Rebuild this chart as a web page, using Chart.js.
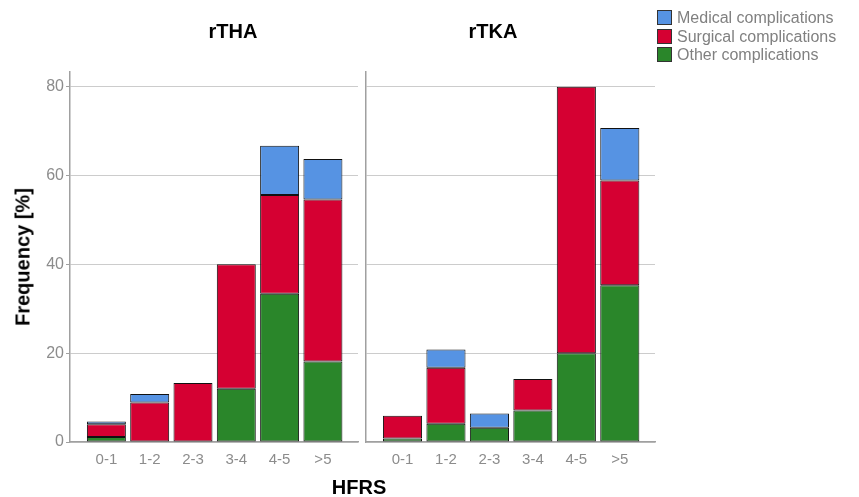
<!DOCTYPE html>
<html>
<head>
<meta charset="utf-8">
<script src="https://cdn.jsdelivr.net/npm/chart.js@4"></script>
<style>
  body { margin: 0; background: #fff; font-family: "Liberation Sans", Arial, sans-serif; }
  #wrap { position: relative; width: 859px; height: 497px; overflow: hidden; }
  .box { position: absolute; top: 0; height: 497px; }
  .t { position: absolute; font-weight: bold; color: #000; font-size: 20px; white-space: nowrap; }
  .leg { position: absolute; left: 657px; font-size: 16px; color: #808080; white-space: nowrap; }
  .leg span { display: inline-block; width: 13px; height: 13px; border: 1px solid #333; vertical-align: -2px; margin-right: 5px; }
</style>
</head>
<body>
<div id="wrap">
  <div class="box" style="left:0;width:362px"><canvas id="thaCanvas"></canvas></div>
  <div class="box" style="left:360px;width:300px"><canvas id="tkaCanvas"></canvas></div>
  <div class="t" style="left:233px;top:31px;transform:translate(-50%,-50%)">rTHA</div>
  <div class="t" style="left:493px;top:31px;transform:translate(-50%,-50%)">rTKA</div>
  <div class="t" style="left:359px;top:487px;transform:translate(-50%,-50%)">HFRS</div>
  <div class="t" style="left:23px;top:257px;transform:translate(-50%,-50%) rotate(-90deg)">Frequency [%]</div>
  <div class="leg" style="top:9px"><span style="background:#5693e3"></span>Medical complications</div>
  <div class="leg" style="top:28px"><span style="background:#d50032"></span>Surgical complications</div>
  <div class="leg" style="top:46px"><span style="background:#2a862a"></span>Other complications</div>
</div>
<script>
const categorias = ["0-1", "1-2", "2-3", "3-4", "4-5", ">5"];
const ticksY = [0, 20, 40, 60, 80];

// rTHA
const thaOutras = [1.1, 0, 0, 12.0, 33.4, 18.1];
const thaCirurgicas = [2.9, 8.9, 13.3, 28.0, 22.2, 36.5];
const thaMedicas = [0.6, 1.9, 0, 0, 11.1, 9.1];

// rTKA
const tkaOutras = [0.8, 4.1, 3.2, 7.1, 20.0, 35.3];
const tkaCirurgicas = [5.1, 12.6, 0, 7.1, 60.0, 23.6];
const tkaMedicas = [0, 4.1, 3.2, 0, 0, 11.8];

const cores = { medicas: "#5693e3", cirurgicas: "#d50032", outras: "#2a862a" };
const fonte = "'Liberation Sans', Arial, sans-serif";

function pontos(valores) {
  return valores.map((v, i) => ({ x: i, y: v }));
}

function serie(label, valores, cor) {
  return {
    label,
    data: pontos(valores),
    backgroundColor: cor,
    borderColor: "#111111",
    borderWidth: 1,
    borderSkipped: false,
    barPercentage: 0.9,
    categoryPercentage: 1.0,
  };
}

function criarGrafico(canvas, outras, cirurgicas, medicas, comEixo) {
  return new Chart(canvas.getContext("2d"), {
    type: "bar",
    data: {
      datasets: [
        serie("Other complications", outras, cores.outras),
        serie("Surgical complications", cirurgicas, cores.cirurgicas),
        serie("Medical complications", medicas, cores.medicas),
      ],
    },
    options: {
      responsive: true,
      maintainAspectRatio: false,
      animation: false,
      layout: { padding: { top: 72, right: comEixo ? 4 : 5, left: 0, bottom: 0 } },
      plugins: { legend: { display: false }, tooltip: { enabled: false } },
      scales: {
        x: {
          type: "linear",
          stacked: true,
          offset: false,
          min: -0.84,
          max: 5.81,
          afterBuildTicks: s => { s.ticks = categorias.map((c, i) => ({ value: i })); },
          afterFit: s => { s.height = 55; },
          grid: { display: false, drawTicks: false, offset: false },
          border: { display: true, color: "#a0a0a0", width: 1.5 },
          ticks: {
            padding: 9,
            color: "#8c8c8c",
            font: { family: fonte, size: 15 },
            callback: v => categorias[v],
          },
        },
        y: {
          stacked: true,
          min: 0,
          max: 83.3,
          afterBuildTicks: s => { s.ticks = ticksY.map(v => ({ value: v })); },
          afterFit: s => { s.width = comEixo ? 70 : 6; },
          grid: { color: "#cccccc", lineWidth: 1, tickLength: 4, drawTicks: comEixo, tickColor: "#a0a0a0" },
          border: { display: true, color: "#a0a0a0", width: 1.5 },
          ticks: {
            display: comEixo,
            padding: 2,
            color: "#8c8c8c",
            font: { family: fonte, size: 16 },
          },
        },
      },
    },
  });
}

criarGrafico(document.getElementById("thaCanvas"), thaOutras, thaCirurgicas, thaMedicas, true);
criarGrafico(document.getElementById("tkaCanvas"), tkaOutras, tkaCirurgicas, tkaMedicas, false);
</script>
</body>
</html>
